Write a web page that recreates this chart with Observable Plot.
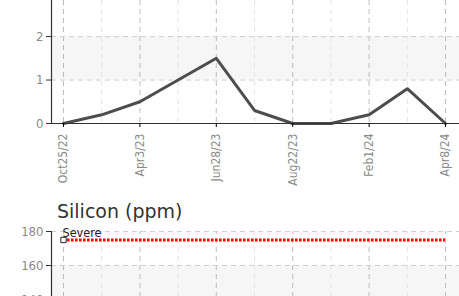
<!DOCTYPE html>
<html><head><meta charset="utf-8">
<script src="https://cdn.jsdelivr.net/npm/d3@7"></script>
<script src="https://cdn.jsdelivr.net/npm/@observablehq/plot@0.6"></script>
<style>
html,body{margin:0;padding:0;background:#fff;width:459px;height:296px;overflow:hidden;position:relative}
#c1,#c2{position:absolute;left:0}
#c1{top:0}
#c2{top:222px}
#title{position:absolute;left:57px;top:202px;font:19px/19px "DejaVu Sans",Verdana,sans-serif;color:#333;white-space:nowrap}
svg{overflow:visible}
</style></head><body>
<div id="c1"></div>
<div id="title">Silicon (ppm)</div>
<div id="c2"></div>
<script>
const idx = [0,1,2,3,4,5,6,7,8,9,10];
const values = [0,0.2,0.5,1.0,1.5,0.3,0,0,0.2,0.8,0];
const tickIdx = [0,2,4,6,8,10];
const tickLabels = ["Oct25/22","Apr3/23","Jun28/23","Aug22/23","Feb1/24","Apr8/24"];
const bandLow = [1,2];
const siliconSevere = 175;
const siliconTicks = [180,160,140,120];
const siliconBandTop = 160;

const font = '"Liberation Sans Narrow","DejaVu Sans Condensed","Roboto Condensed",sans-serif';
const xDomain = [-0.314, 10.366];
const minorIdx = idx.filter(i => !tickIdx.includes(i));
const data = idx.map((i,k)=>({i, v: values[k]}));

const p1 = Plot.plot({
  width: 459, height: 185,
  marginLeft: 51, marginRight: 0, marginTop: 0, marginBottom: 62,
  style: {fontFamily: font, background: "transparent"},
  x: {domain: xDomain},
  y: {domain: [0, 2.83]},
  marks: [
    Plot.rectY([bandLow], {x1: xDomain[0], x2: xDomain[1], y1: d=>d[0], y2: d=>d[1], fill: "#f6f6f6"}),
    Plot.ruleX(minorIdx, {stroke: "#e4e4e4", strokeDasharray: "5,4"}),
    Plot.ruleX(tickIdx, {stroke: "#bdbdbd", strokeDasharray: "5,4"}),
    Plot.ruleY([1,2], {stroke: "#cfcfcf", strokeDasharray: "5,4"}),
    Plot.lineY(data, {x: "i", y: "v", stroke: "#4d4d4d", strokeWidth: 3}),
    Plot.ruleX([xDomain[0]], {stroke: "#333", strokeWidth: 1.2}),
    Plot.ruleY([0], {stroke: "#333", strokeWidth: 1.2}),
    Plot.axisY({ticks: [0,1,2], tickSize: 5, tickPadding: 3, fontSize: 13, color: "#333", label: null, tickFormat: d=>d}),
    Plot.axisX({ticks: tickIdx, tickFormat: i => tickLabels[tickIdx.indexOf(i)], tickRotate: -90, tickSize: 4, tickPadding: 6, fontSize: 12, label: null})
  ]
});
document.getElementById("c1").appendChild(p1);

const yMin = 180 - 111/1.7;
const p2 = Plot.plot({
  width: 459, height: 120,
  marginLeft: 51, marginRight: 0, marginTop: 9, marginBottom: 0,
  style: {fontFamily: font, background: "transparent"},
  x: {domain: xDomain, axis: null},
  y: {domain: [yMin, 180]},
  marks: [
    Plot.rectY([siliconBandTop], {x1: xDomain[0], x2: xDomain[1], y1: yMin, y2: d=>d, fill: "#f6f6f6"}),
    Plot.ruleX(minorIdx, {stroke: "#e4e4e4", strokeDasharray: "5,4", y1: yMin, y2: 180}),
    Plot.ruleX(tickIdx, {stroke: "#bdbdbd", strokeDasharray: "5,4", y1: yMin, y2: 180}),
    Plot.ruleY(siliconTicks, {stroke: "#cfcfcf", strokeDasharray: "5,4"}),
    Plot.ruleY([siliconSevere], {x1: 0, x2: 10, stroke: "#ff0000", strokeWidth: 3, strokeDasharray: "2.6,1.4"}),
    Plot.dot([siliconSevere], {x: 0, y: d=>d, symbol: "square", r: 3, stroke: "#222", fill: "#fff", strokeWidth: 1}),
    Plot.text(["Severe"], {x: 0, y: siliconSevere, text: d=>d, textAnchor: "start", lineAnchor: "bottom", dx: -1, dy: -3, fontSize: 12.5, fill: "#222"}),
    Plot.ruleX([xDomain[0]], {stroke: "#333", strokeWidth: 1.2, y1: yMin, y2: 180}),
    Plot.axisY({ticks: siliconTicks, tickSize: 5, tickPadding: 3, fontSize: 13, color: "#333", label: null})
  ]
});
document.getElementById("c2").appendChild(p2);
document.querySelectorAll('[aria-label="y-axis tick label"], [aria-label="x-axis tick label"]').forEach(g => g.setAttribute("fill", "#8a8a8a"));
</script>
</body></html>
